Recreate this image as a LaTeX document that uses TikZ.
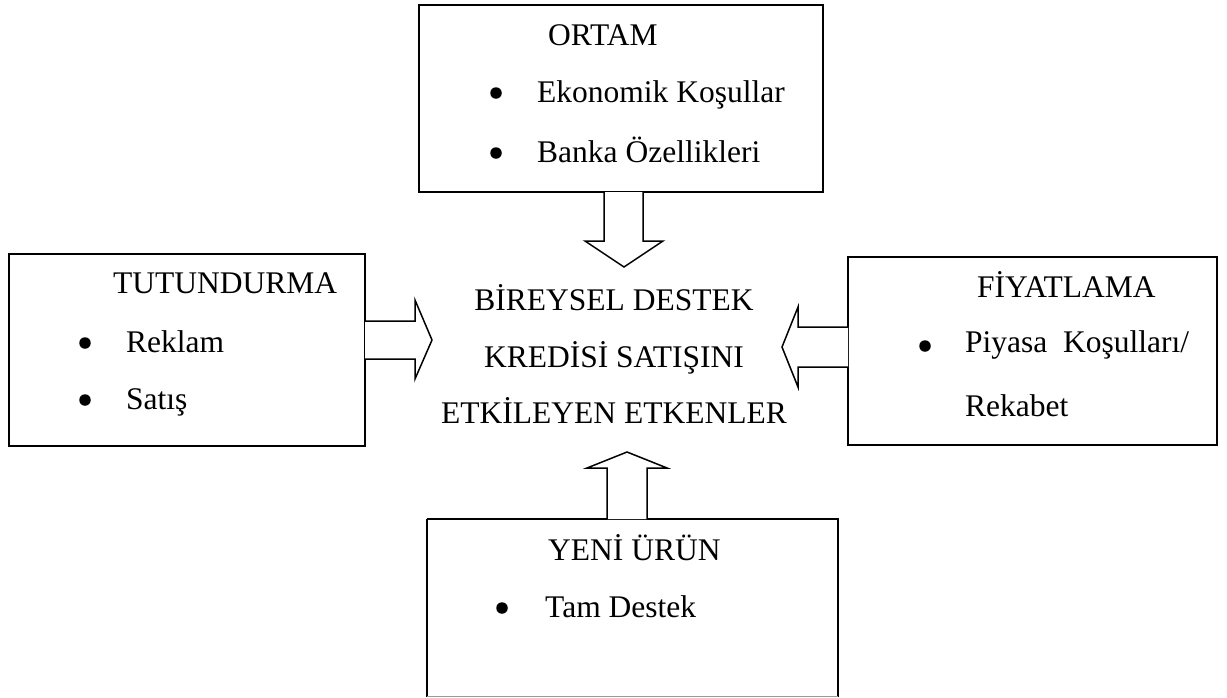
\documentclass[tikz,border=0pt]{standalone}
\usepackage{fontspec}
\setmainfont{Liberation Serif}
\begin{document}
\begin{tikzpicture}[x=1pt,y=-1pt,
  frame/.style={draw=black,line width=1.8pt},
  blockarrow/.style={draw=black,line width=1.5pt,fill=white,line join=miter},
  txt/.style={inner sep=0pt,anchor=base west,font=\fontsize{31.5}{36}\selectfont},
  ctxt/.style={inner sep=0pt,anchor=base,font=\fontsize{31.5}{36}\selectfont},
  dot/.style={circle,fill=black,inner sep=0pt,minimum size=11.5pt}]
\useasboundingbox (0,0) rectangle (1227,697);

% boxes
\draw[frame] (419,5) rectangle (823,192);
\draw[frame] (9,254) rectangle (365,446);
\draw[frame] (848,257) rectangle (1217,445);
\draw[frame] (427,519) -- (427,697) (427,519) -- (838,519) -- (838,697);
\draw[frame,line width=1pt,draw=black!40] (427,696.5) -- (838,696.5);

% block arrows pointing at the centre
\draw[blockarrow] (604,192) -- (604,241) -- (585,241) -- (624,267) -- (663,241) -- (643,241) -- (643,192);
\draw[blockarrow] (365,321) -- (415,321) -- (415,300) -- (432,340) -- (415,379) -- (415,359) -- (365,359);
\draw[blockarrow] (848,327) -- (798,327) -- (798,307) -- (782,347) -- (798,387) -- (798,367) -- (848,367);
\draw[blockarrow] (607,519) -- (607,468) -- (587,468) -- (627,452) -- (667,468) -- (647,468) -- (647,519);

% ORTAM
\node[txt] (ortam) at (548,45) {ORTAM};
\node[dot] (o1) at (496,93) {};
\node[txt] (ortam1) at (537,102) {Ekonomik Koşullar};
\node[dot] (o2) at (496,153) {};
\node[txt] (ortam2) at (537,162) {Banka Özellikleri};

% TUTUNDURMA
\node[txt] (tut) at (113,293) {TUTUNDURMA};
\node[dot] (t1) at (85,343) {};
\node[txt] (tut1) at (126,352) {Reklam};
\node[dot] (t2) at (85,400) {};
\node[txt] (tut2) at (126,409) {Satış};

% FIYATLAMA
\node[txt] (fiy) at (977,297) {FİYATLAMA};
\node[dot] (f1) at (925,346) {};
\node[txt] (fiy1) at (965,352) {Piyasa\ \ Koşulları/};
\node[txt] (fiy2) at (965,416) {Rekabet};

% YENI URUN
\node[txt] (yeni) at (548,560) {YENİ ÜRÜN};
\node[dot] (y1) at (502,608) {};
\node[txt] (yeni1) at (545,617) {Tam Destek};

% centre
\node[ctxt] (c1) at (614,310) {BİREYSEL DESTEK};
\node[ctxt] (c2) at (614,367) {KREDİSİ SATIŞINI};
\node[ctxt] (c3) at (614,423) {ETKİLEYEN ETKENLER};
\end{tikzpicture}
\end{document}
